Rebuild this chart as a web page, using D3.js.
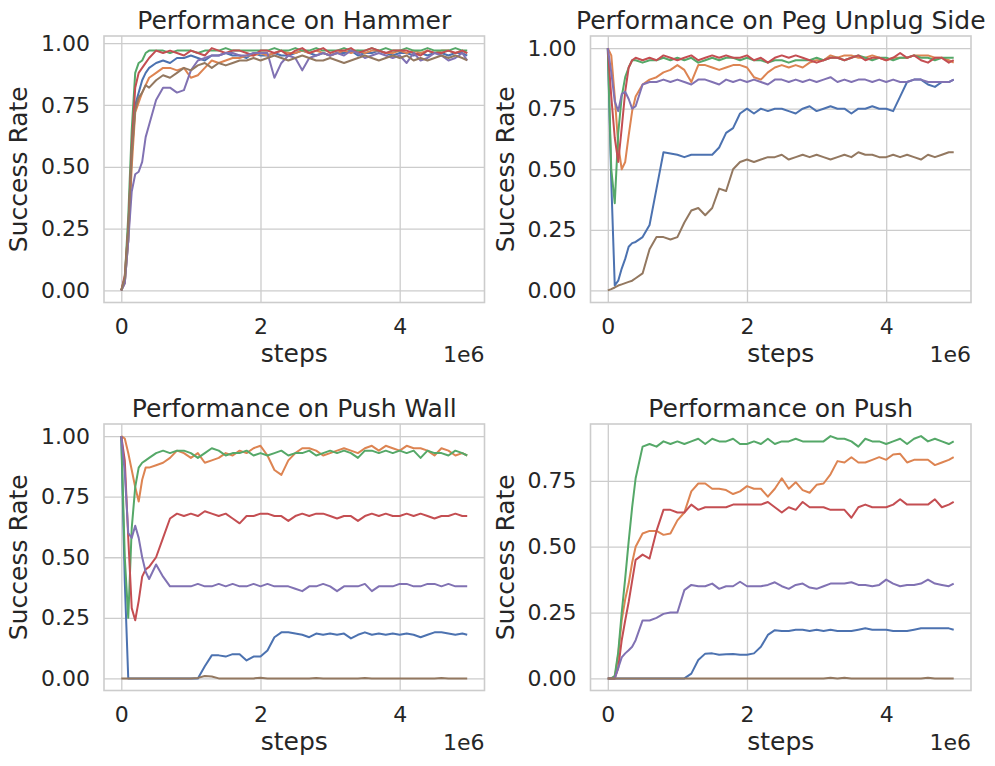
<!DOCTYPE html>
<html>
<head>
<meta charset="utf-8">
<script src="https://cdn.jsdelivr.net/npm/d3@7"></script>
<style>
  body { margin: 0; background: #fff; }
  svg { display: block; }
  text { font-family: "DejaVu Sans", sans-serif; fill: #262626; }
</style>
</head>
<body>
<svg id="chart" width="995" height="766"></svg>
<script>
// training steps, in units of 1e6
const steps = [0, 0.05, 0.1, 0.15, 0.2, 0.25, 0.3, 0.35, 0.4,
  0.5, 0.6, 0.7, 0.8, 0.9,
  1.0, 1.1, 1.2, 1.3, 1.4, 1.5, 1.6, 1.7, 1.8, 1.9,
  2.0, 2.1, 2.2, 2.3, 2.4, 2.5, 2.6, 2.7, 2.8, 2.9,
  3.0, 3.1, 3.2, 3.3, 3.4, 3.5, 3.6, 3.7, 3.8, 3.9,
  4.0, 4.1, 4.2, 4.3, 4.4, 4.5, 4.6, 4.7, 4.8, 4.9,
  4.97]

const titles = ["Performance on Hammer", "Performance on Peg Unplug Side", "Performance on Push Wall", "Performance on Push"]
const colors = ["#4C72B0", "#DD8452", "#55A868", "#C44E52", "#8172B3", "#937860"]
const xTicks = [0, 2, 4]

// Hammer
const hammerBlue = [0,0.03,0.2,0.55,0.75,0.8,0.85,0.88,0.9, 0.92,0.93,0.92,0.94,0.94, 0.95,0.94,0.93,0.95,0.95,0.96,0.95,0.95,0.94,0.96, 0.95,0.95,0.96,0.95,0.95,0.96,0.97,0.96,0.95,0.96, 0.95,0.96,0.96,0.97,0.95,0.96,0.96,0.97,0.96,0.95, 0.96,0.96,0.95,0.96,0.95,0.96,0.96,0.95,0.96,0.96, 0.95]
const hammerOrange = [0,0.03,0.2,0.5,0.72,0.76,0.8,0.83,0.86, 0.88,0.9,0.9,0.89,0.9, 0.86,0.87,0.9,0.93,0.92,0.93,0.94,0.94,0.95,0.95, 0.96,0.95,0.96,0.97,0.96,0.96,0.97,0.96,0.97,0.96, 0.95,0.96,0.97,0.96,0.97,0.96,0.97,0.97,0.96,0.96, 0.97,0.96,0.97,0.96,0.97,0.96,0.97,0.97,0.96,0.97, 0.96]
const hammerGreen = [0,0.05,0.3,0.65,0.88,0.92,0.93,0.96,0.97, 0.97,0.97,0.96,0.97,0.97, 0.97,0.96,0.97,0.97,0.97,0.98,0.97,0.97,0.97,0.97, 0.97,0.97,0.98,0.97,0.97,0.98,0.97,0.97,0.98,0.97, 0.97,0.97,0.98,0.97,0.97,0.97,0.98,0.97,0.98,0.97, 0.97,0.98,0.97,0.97,0.98,0.97,0.97,0.97,0.98,0.97, 0.97]
const hammerRed = [0,0.06,0.25,0.58,0.82,0.88,0.9,0.92,0.94, 0.97,0.96,0.97,0.96,0.95, 0.97,0.96,0.95,0.98,0.97,0.96,0.97,0.97,0.96,0.95, 0.97,0.97,0.96,0.97,0.95,0.97,0.98,0.96,0.97,0.98, 0.96,0.97,0.97,0.98,0.96,0.97,0.98,0.97,0.96,0.97, 0.97,0.97,0.96,0.95,0.97,0.96,0.96,0.97,0.96,0.97, 0.96]
const hammerPurple = [0,0.03,0.2,0.4,0.47,0.48,0.52,0.62,0.67, 0.77,0.82,0.82,0.8,0.81, 0.89,0.93,0.94,0.95,0.95,0.96,0.96,0.95,0.95,0.96, 0.96,0.96,0.86,0.92,0.95,0.94,0.89,0.94,0.95,0.96, 0.95,0.96,0.95,0.97,0.96,0.94,0.95,0.96,0.95,0.94, 0.95,0.92,0.96,0.93,0.94,0.96,0.95,0.93,0.94,0.96, 0.93]
const hammerBrown = [0,0.05,0.25,0.55,0.73,0.78,0.8,0.83,0.82, 0.85,0.87,0.86,0.88,0.9, 0.89,0.91,0.92,0.9,0.92,0.91,0.92,0.93,0.93,0.94, 0.93,0.94,0.95,0.94,0.93,0.94,0.95,0.94,0.93,0.93, 0.94,0.93,0.92,0.93,0.94,0.95,0.94,0.93,0.94,0.95, 0.94,0.95,0.93,0.94,0.93,0.94,0.95,0.94,0.95,0.94, 0.93]

// Peg Unplug Side
const pegBlue = [1,0.45,0.02,0.04,0.09,0.13,0.18,0.195,0.2, 0.22,0.27,0.42,0.57,0.565, 0.56,0.55,0.56,0.56,0.56,0.56,0.59,0.65,0.67,0.73, 0.75,0.73,0.75,0.74,0.75,0.75,0.74,0.73,0.75,0.76, 0.74,0.75,0.76,0.75,0.75,0.73,0.75,0.75,0.76,0.75, 0.75,0.74,0.8,0.86,0.87,0.87,0.85,0.84,0.86,0.86, 0.87]
const pegOrange = [1,0.97,0.8,0.6,0.5,0.53,0.64,0.74,0.8, 0.85,0.87,0.88,0.9,0.91, 0.93,0.91,0.86,0.93,0.93,0.92,0.91,0.92,0.93,0.93, 0.92,0.88,0.87,0.9,0.92,0.93,0.92,0.93,0.92,0.94, 0.95,0.95,0.97,0.96,0.97,0.97,0.96,0.96,0.97,0.96, 0.95,0.96,0.96,0.96,0.97,0.97,0.97,0.96,0.96,0.95, 0.94]
const pegGreen = [1,0.5,0.36,0.65,0.8,0.88,0.92,0.95,0.95, 0.94,0.95,0.95,0.96,0.95, 0.96,0.95,0.96,0.94,0.95,0.96,0.95,0.96,0.96,0.95, 0.96,0.95,0.95,0.94,0.95,0.95,0.94,0.95,0.95,0.95, 0.96,0.95,0.96,0.96,0.95,0.96,0.97,0.96,0.95,0.96, 0.96,0.95,0.96,0.96,0.97,0.96,0.96,0.95,0.96,0.96, 0.96]
const pegRed = [1,0.8,0.63,0.53,0.67,0.82,0.92,0.95,0.96, 0.95,0.96,0.95,0.97,0.96, 0.95,0.96,0.97,0.95,0.96,0.97,0.96,0.97,0.96,0.96, 0.97,0.95,0.96,0.94,0.96,0.97,0.96,0.97,0.96,0.95, 0.94,0.95,0.96,0.96,0.95,0.96,0.97,0.95,0.96,0.96, 0.95,0.96,0.98,0.96,0.97,0.95,0.94,0.96,0.96,0.94, 0.95]
const pegPurple = [1,0.9,0.78,0.74,0.81,0.82,0.79,0.75,0.76, 0.85,0.86,0.86,0.87,0.86, 0.87,0.86,0.85,0.87,0.87,0.86,0.85,0.87,0.86,0.87, 0.86,0.87,0.86,0.85,0.87,0.87,0.86,0.87,0.86,0.87, 0.86,0.87,0.88,0.86,0.87,0.86,0.87,0.87,0.86,0.87, 0.86,0.87,0.86,0.86,0.87,0.87,0.86,0.86,0.86,0.86, 0.87]
const pegBrown = [0,0.005,0.012,0.02,0.025,0.03,0.035,0.04,0.05, 0.07,0.17,0.22,0.22,0.21, 0.22,0.28,0.33,0.34,0.31,0.34,0.42,0.41,0.5,0.53, 0.54,0.53,0.54,0.55,0.55,0.56,0.54,0.55,0.56,0.55, 0.56,0.55,0.54,0.55,0.56,0.55,0.57,0.56,0.56,0.55, 0.55,0.56,0.55,0.56,0.55,0.54,0.56,0.55,0.56,0.57, 0.57]

// Push Wall
const wallBlue = [1,0.4,0,0,0,0,0,0,0, 0,0,0,0,0, 0,0,0.05,0.095,0.095,0.09,0.1,0.1,0.074,0.09, 0.09,0.115,0.17,0.19,0.19,0.185,0.18,0.17,0.185,0.18, 0.185,0.18,0.185,0.165,0.18,0.19,0.18,0.185,0.18,0.185, 0.18,0.185,0.18,0.17,0.18,0.19,0.19,0.185,0.18,0.185, 0.18]
const wallOrange = [1,0.99,0.93,0.86,0.79,0.73,0.82,0.87,0.87, 0.88,0.89,0.91,0.94,0.93, 0.91,0.93,0.89,0.9,0.91,0.93,0.92,0.94,0.93,0.95, 0.96,0.92,0.86,0.84,0.9,0.93,0.95,0.95,0.94,0.92, 0.93,0.94,0.95,0.94,0.93,0.95,0.96,0.94,0.96,0.95, 0.94,0.96,0.95,0.95,0.94,0.92,0.95,0.94,0.92,0.93, 0.92]
const wallGreen = [1,0.5,0.25,0.62,0.79,0.87,0.89,0.9,0.91, 0.93,0.94,0.93,0.94,0.94, 0.93,0.91,0.93,0.95,0.94,0.92,0.93,0.93,0.94,0.92, 0.93,0.92,0.93,0.94,0.92,0.93,0.93,0.94,0.92,0.93, 0.94,0.93,0.94,0.93,0.91,0.94,0.94,0.93,0.94,0.93, 0.94,0.93,0.94,0.91,0.94,0.93,0.93,0.92,0.94,0.93, 0.92]
const wallRed = [1,0.9,0.58,0.29,0.24,0.32,0.42,0.45,0.46, 0.5,0.58,0.66,0.68,0.67, 0.68,0.67,0.69,0.68,0.67,0.68,0.66,0.64,0.67,0.67, 0.68,0.68,0.67,0.67,0.65,0.67,0.68,0.67,0.68,0.68, 0.67,0.66,0.67,0.67,0.65,0.67,0.68,0.67,0.68,0.67, 0.67,0.68,0.67,0.68,0.67,0.66,0.67,0.67,0.68,0.67, 0.67]
const wallPurple = [1,0.85,0.6,0.58,0.63,0.58,0.5,0.44,0.41, 0.47,0.42,0.38,0.38,0.38, 0.38,0.39,0.38,0.38,0.39,0.38,0.39,0.38,0.38,0.39, 0.38,0.39,0.38,0.38,0.38,0.37,0.36,0.38,0.38,0.39, 0.38,0.36,0.38,0.38,0.38,0.39,0.36,0.38,0.38,0.38, 0.39,0.39,0.38,0.38,0.39,0.39,0.38,0.39,0.38,0.38, 0.38]
const wallBrown = [0,0,0,0,0,0,0,0,0, 0,0,0,0,0, 0,0.002,0.01,0.008,0,0,0,0,0,0, 0.003,0,0,0,0,0,0,0,0.002,0, 0,0,0,0,0,0.002,0,0,0,0, 0,0,0,0,0,0,0.002,0,0,0, 0]

// Push
const pushBlue = [0,0,0,0,0,0,0,0,0, 0,0,0,0,0, 0,0,0.018,0.07,0.094,0.095,0.09,0.092,0.093,0.09, 0.09,0.095,0.12,0.165,0.183,0.18,0.18,0.185,0.185,0.18, 0.185,0.18,0.185,0.18,0.18,0.18,0.185,0.19,0.185,0.185, 0.185,0.18,0.18,0.18,0.185,0.19,0.19,0.19,0.19,0.19, 0.185]
const pushOrange = [0,0,0,0.09,0.22,0.3,0.36,0.44,0.5, 0.55,0.56,0.56,0.545,0.55, 0.6,0.63,0.71,0.74,0.74,0.72,0.72,0.715,0.7,0.71, 0.73,0.72,0.72,0.69,0.72,0.76,0.72,0.745,0.715,0.705, 0.735,0.74,0.775,0.825,0.82,0.84,0.82,0.82,0.83,0.84, 0.83,0.85,0.853,0.82,0.83,0.83,0.83,0.81,0.82,0.83, 0.84]
const pushGreen = [0,0,0.01,0.1,0.25,0.38,0.52,0.65,0.76, 0.88,0.89,0.88,0.9,0.89, 0.9,0.89,0.9,0.91,0.89,0.91,0.9,0.9,0.91,0.89, 0.89,0.9,0.89,0.91,0.89,0.9,0.9,0.91,0.9,0.9, 0.9,0.9,0.92,0.91,0.91,0.9,0.88,0.91,0.9,0.9, 0.89,0.9,0.91,0.89,0.91,0.92,0.9,0.91,0.9,0.89, 0.9]
const pushRed = [0,0,0,0.04,0.145,0.22,0.29,0.37,0.45, 0.47,0.455,0.56,0.64,0.64, 0.63,0.63,0.66,0.64,0.65,0.65,0.65,0.65,0.66,0.66, 0.66,0.66,0.66,0.67,0.65,0.63,0.65,0.64,0.67,0.65, 0.65,0.65,0.64,0.64,0.64,0.61,0.65,0.66,0.65,0.65, 0.65,0.66,0.68,0.66,0.66,0.66,0.66,0.68,0.65,0.66, 0.67]
const pushPurple = [0,0,0,0.04,0.08,0.095,0.107,0.12,0.145, 0.22,0.22,0.23,0.245,0.25, 0.25,0.335,0.355,0.35,0.35,0.36,0.34,0.35,0.35,0.367, 0.35,0.35,0.35,0.355,0.365,0.35,0.34,0.355,0.36,0.345, 0.34,0.35,0.36,0.36,0.36,0.365,0.355,0.355,0.35,0.355, 0.375,0.36,0.35,0.355,0.355,0.36,0.375,0.36,0.355,0.35, 0.36]
const pushBrown = [0,0,0,0,0,0,0,0,0, 0,0,0,0,0, 0,0,0,0,0,0,0,0,0,0, 0,0,0,0,0,0,0,0,0,0, 0,0,0.002,0,0.002,0,0,0,0,0, 0,0,0,0,0,0,0.002,0,0,0, 0]

const panelSeries = [
    [hammerBlue, hammerOrange, hammerGreen, hammerRed, hammerPurple, hammerBrown],
    [pegBlue, pegOrange, pegGreen, pegRed, pegPurple, pegBrown],
    [wallBlue, wallOrange, wallGreen, wallRed, wallPurple, wallBrown],
    [pushBlue, pushOrange, pushGreen, pushRed, pushPurple, pushBrown]
]

// axes boxes (left, top) of the 2x2 grid
const boxes = [[104, 36], [590.5, 36], [104, 424], [590.5, 424]]
const W = 380.5, H = 266.5

// matplotlib style 5% autoscale margin
function padded(ext) {
    var m = (ext[1] - ext[0]) * 0.05
    return [ext[0] - m, ext[1] + m]
}

var svg = d3.select("#chart")

panelSeries.forEach(function (series, i) {
    var g = svg.append("g")
        .attr("transform", "translate(" + boxes[i][0] + "," + boxes[i][1] + ")")

    var x = d3.scaleLinear()
        .domain(padded(d3.extent(steps)))
        .range([0, W])

    var y = d3.scaleLinear()
        .domain(padded(d3.extent(series.flat())))
        .range([H, 0])

    var yTicks = d3.range(0, y.domain()[1], 0.25)

    // grid + tick labels
    g.append("g")
        .attr("transform", "translate(0," + H + ")")
        .call(d3.axisBottom(x).tickValues(xTicks).tickSize(-H).tickPadding(16).tickFormat(d3.format("d")))
    g.append("g")
        .call(d3.axisLeft(y).tickValues(yTicks).tickSize(-W).tickPadding(14).tickFormat(d3.format(".2f")))

    g.selectAll(".domain").remove()
    g.selectAll(".tick line").attr("stroke", "#cccccc").attr("stroke-width", 1.3)
    g.selectAll(".tick text").attr("font-size", 22).attr("fill", "#262626")
        .attr("font-family", "DejaVu Sans")

    // the curves
    var line = d3.line()
        .x(function (d, j) { return x(steps[j]) })
        .y(function (d) { return y(d) })

    g.append("g").selectAll("path")
        .data(series)
        .enter().append("path")
        .attr("d", line)
        .attr("fill", "none")
        .attr("stroke", function (d, k) { return colors[k] })
        .attr("stroke-width", 2)
        .attr("stroke-linejoin", "round")

    // spines
    g.append("rect")
        .attr("width", W)
        .attr("height", H)
        .attr("fill", "none")
        .attr("stroke", "#cccccc")
        .attr("stroke-width", 1.6)

    // title and labels
    g.append("text")
        .attr("x", W / 2)
        .attr("y", -7.5)
        .attr("text-anchor", "middle")
        .attr("font-size", 25)
        .text(titles[i])

    g.append("text")
        .attr("transform", "translate(-77," + (H / 2) + ") rotate(-90)")
        .attr("text-anchor", "middle")
        .attr("font-size", 25)
        .text("Success Rate")

    g.append("text")
        .attr("x", W / 2)
        .attr("y", H + 59)
        .attr("text-anchor", "middle")
        .attr("font-size", 25)
        .text("steps")

    g.append("text")
        .attr("x", W)
        .attr("y", H + 59)
        .attr("text-anchor", "end")
        .attr("font-size", 22)
        .text("1e6")
})
</script>
</body>
</html>
